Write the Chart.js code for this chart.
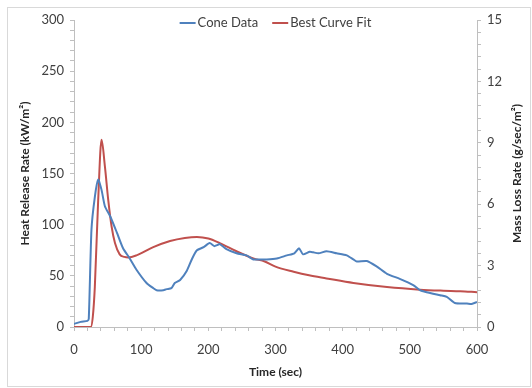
<!DOCTYPE html>
<html>
<head>
<meta charset="utf-8">
<script src="https://cdn.jsdelivr.net/npm/chart.js@4"></script>
<style>
  html, body { margin: 0; padding: 0; background: #fff; }
  #wrap { width: 532px; height: 388px; }
</style>
</head>
<body>
<div id="wrap"><canvas id="hrrChart" width="532" height="388"></canvas></div>
<script>
// cone calorimeter readings (time in sec, heat release rate in kW/m2)
const coneTime = [0, 10, 20, 22, 26, 31, 36, 41, 46, 54, 64, 73, 83, 93, 108, 118, 123, 133, 138, 145, 150,
  158, 168, 176, 183, 193, 202, 209, 213, 217, 227, 242, 257, 267, 277, 287, 302, 317, 328, 335, 341,
  351, 356, 364, 376, 391, 406, 416, 421, 436, 451, 466, 485, 505, 515, 525, 545, 555, 567, 585, 592, 600];
const coneHrr = [3, 5, 6, 8, 95, 127, 144, 134, 118, 108, 92, 77, 67, 56, 43, 38, 36, 36, 37, 38, 43,
  46, 55, 67, 75, 78, 82, 79, 80, 81, 76, 72, 70, 66, 66, 66, 67, 70, 72, 77, 71,
  73.5, 73, 72, 74, 72, 70, 66, 64, 64.5, 59, 52, 47, 41, 36, 34, 31, 29.5, 23.5, 23, 22.5, 24.5];

// fitted curve
const fitTime = [0, 25, 28, 31, 36, 41, 46, 51, 56, 61, 68, 75, 81, 93, 118, 143, 165, 183, 200, 217, 242,
  267, 284, 300, 327, 350, 376, 416, 466, 515, 550, 575, 600];
const fitHrr = [0, 0, 10, 39, 124, 183, 157, 124, 98, 82, 71, 68.5, 68, 70, 78, 84, 87, 88, 86.5, 82, 74,
  67, 64, 59, 54, 50.5, 47.5, 43, 39, 36.5, 35.5, 35, 34];

const xTicks = [0, 100, 200, 300, 400, 500, 600];
const hrrTicks = [0, 50, 100, 150, 200, 250, 300];
const mlrTicks = [0, 3, 6, 9, 12, 15];

const toPoints = (xs, ys) => xs.map((x, i) => ({ x: x, y: ys[i] }));

const FONT = 'Lato, "Liberation Sans", sans-serif';
const AXIS = '#bfbfbf';
const TICK_TEXT = '#404040';

// outer frame around the whole chart
const framePlugin = {
  id: 'frame',
  beforeDraw(chart) {
    const ctx = chart.ctx;
    ctx.save();
    ctx.strokeStyle = '#d9d9d9';
    ctx.lineWidth = 1;
    ctx.strokeRect(7.5, 7.5, 523, 379);
    ctx.restore();
  }
};

// right-hand axis title (reads bottom to top) and the legend across the top
const overlayPlugin = {
  id: 'overlay',
  afterDraw(chart) {
    const ctx = chart.ctx;
    const area = chart.chartArea;
    ctx.save();
    ctx.translate(517, (area.top + area.bottom) / 2);
    ctx.rotate(-Math.PI / 2);
    ctx.font = 'bold 12px ' + FONT;
    ctx.fillStyle = '#262626';
    ctx.textAlign = 'center';
    ctx.textBaseline = 'middle';
    ctx.fillText('Mass Loss Rate (g/sec/m²)', 0, 0);
    ctx.restore();

    // legend
    ctx.save();
    ctx.font = '13px ' + FONT;
    ctx.textBaseline = 'middle';
    const items = chart.data.datasets.map(ds => ({
      text: ds.label, color: ds.borderColor, w: 18 + ctx.measureText(ds.label).width
    }));
    const gap = 14;
    const total = items.reduce((s, it) => s + it.w, 0) + gap * (items.length - 1);
    let x = (area.left + area.right) / 2 - total / 2;
    const y = 23;
    items.forEach(it => {
      ctx.strokeStyle = it.color;
      ctx.lineWidth = 2;
      ctx.beginPath();
      ctx.moveTo(x, y);
      ctx.lineTo(x + 16, y);
      ctx.stroke();
      ctx.fillStyle = TICK_TEXT;
      ctx.fillText(it.text, x + 18, y);
      x += it.w + gap;
    });
    ctx.restore();
  }
};

const onTick = (list) => (v) => list.some(t => Math.abs(t - v) < 1e-6) ? String(Math.round(v)) : '';

const ctx = document.getElementById('hrrChart').getContext('2d');
new Chart(ctx, {
  type: 'line',
  data: {
    datasets: [
      {
        label: 'Cone Data',
        data: toPoints(coneTime, coneHrr),
        borderColor: '#4f81bd',
        backgroundColor: '#4f81bd',
        borderWidth: 2,
        pointRadius: 0,
        tension: 0.2,
        yAxisID: 'y'
      },
      {
        label: 'Best Curve Fit',
        data: toPoints(fitTime, fitHrr),
        borderColor: '#c0504d',
        backgroundColor: '#c0504d',
        borderWidth: 2,
        pointRadius: 0,
        cubicInterpolationMode: 'monotone',
        yAxisID: 'y'
      }
    ]
  },
  options: {
    responsive: false,
    animation: false,
    layout: { padding: { top: 20, left: 0, right: 0, bottom: 0 } },
    plugins: {
      legend: { display: false },
      tooltip: { enabled: false }
    },
    scales: {
      x: {
        type: 'linear',
        min: 0,
        max: 600,
        afterFit: s => { s.height = 61; },
        ticks: {
          stepSize: 20,
          autoSkip: false,
          maxRotation: 0,
          padding: 11,
          color: TICK_TEXT,
          font: { family: FONT, size: 13 },
          callback: onTick(xTicks)
        },
        grid: { drawOnChartArea: false, color: AXIS, tickLength: 4 },
        border: { color: AXIS },
        title: {
          display: true,
          text: 'Time (sec)',
          color: '#262626',
          font: { family: FONT, size: 12, weight: 'bold' },
          padding: { bottom: 9 }
        }
      },
      y: {
        position: 'left',
        min: 0,
        max: 300,
        afterFit: s => { s.width = 74; },
        ticks: {
          stepSize: 10,
          autoSkip: false,
          padding: 6,
          color: TICK_TEXT,
          font: { family: FONT, size: 13 },
          callback: onTick(hrrTicks)
        },
        grid: { drawOnChartArea: false, color: AXIS, tickLength: 4 },
        border: { color: AXIS },
        title: {
          display: true,
          text: 'Heat Release Rate (kW/m²)',
          color: '#262626',
          font: { family: FONT, size: 12, weight: 'bold' },
          padding: { top: 18 }
        }
      },
      y2: {
        position: 'right',
        min: 0,
        max: 15,
        afterFit: s => { s.width = 55; },
        ticks: {
          stepSize: 0.6,
          autoSkip: false,
          padding: 6,
          color: TICK_TEXT,
          font: { family: FONT, size: 13 },
          callback: onTick(mlrTicks)
        },
        grid: { drawOnChartArea: false, color: AXIS, tickLength: 4 },
        border: { color: AXIS }
      }
    }
  },
  plugins: [framePlugin, overlayPlugin]
});
</script>
</body>
</html>
